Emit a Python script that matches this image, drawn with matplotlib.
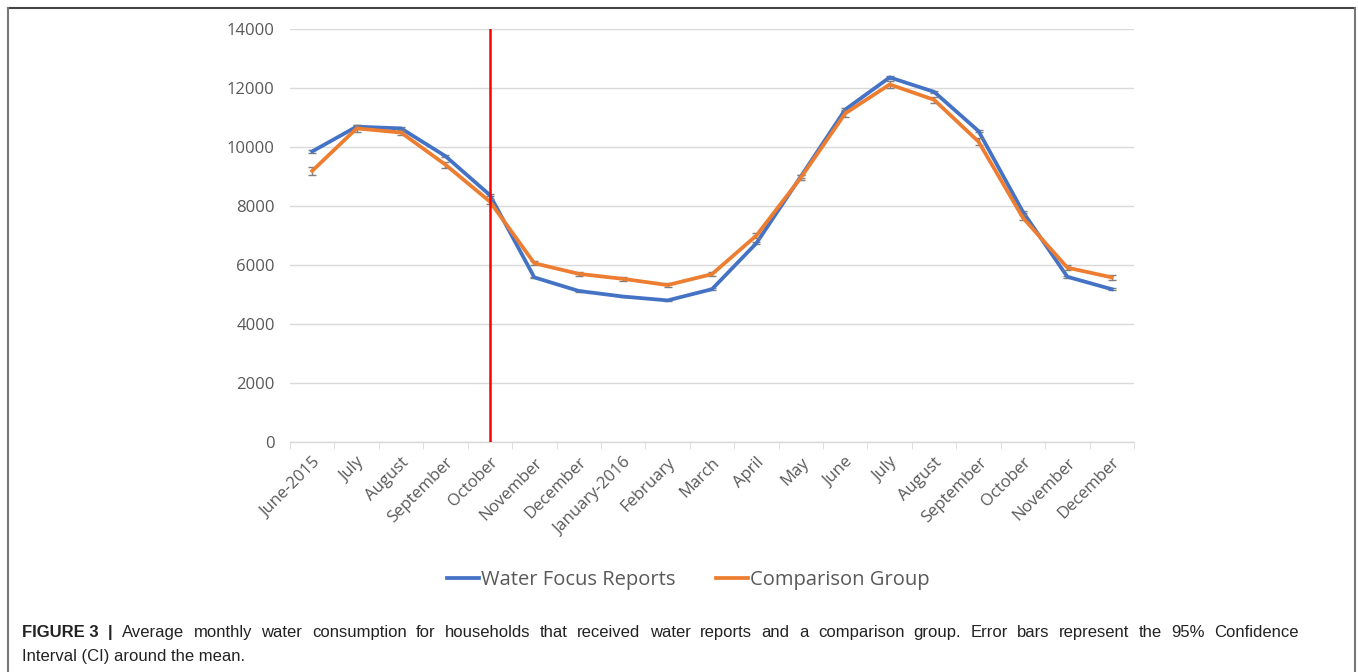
import numpy as np
import matplotlib.pyplot as plt
from matplotlib.lines import Line2D
from matplotlib.transforms import ScaledTranslation

months = ['June-2015', 'July', 'August', 'September', 'October', 'November',
          'December', 'January-2016', 'February', 'March', 'April', 'May',
          'June', 'July', 'August', 'September', 'October', 'November', 'December']

# mean monthly consumption per household
water_focus = [9850, 10690, 10630, 9690, 8370, 5580, 5120, 4930, 4800, 5180,
               6740, 9000, 11270, 12360, 11870, 10540, 7800, 5600, 5180]
comparison = [9190, 10630, 10490, 9400, 8150, 6060, 5700, 5530, 5320, 5690,
              7000, 8960, 11140, 12120, 11600, 10180, 7600, 5910, 5580]

# half-width of the 95% confidence interval
water_focus_ci = [40, 40, 35, 35, 35, 30, 30, 30, 30, 30,
                  35, 40, 45, 45, 45, 40, 35, 30, 30]
comparison_ci = [140, 110, 90, 100, 90, 70, 70, 70, 80, 70,
                 80, 90, 110, 110, 110, 110, 90, 80, 90]

intervention_month = 4  # October 2015

caption_lines = [
    'Average monthly water consumption for households that received water '
    'reports and a comparison group. Error bars represent the 95% Confidence',
    'Interval (CI) around the mean.',
]

W, H = 1358, 672
fig = plt.figure(figsize=(W / 100, H / 100), dpi=100)
ax = fig.add_axes([290 / W, 1 - 442 / H, 844 / W, 413 / H])

x = np.arange(len(months))
for vals, ci, col, name, z in [(water_focus, water_focus_ci, '#4472C4', 'Water Focus Reports', 3),
                               (comparison, comparison_ci, '#ED7D31', 'Comparison Group', 5)]:
    ax.errorbar(x, vals, yerr=ci, fmt='none', ecolor='#7f7f7f', elinewidth=1,
                capsize=3, zorder=z - 1)
    ax.plot(x, vals, color=col, lw=2.7, zorder=z, label=name,
            solid_joinstyle='round')
ax.plot([intervention_month, intervention_month], [0, 14000], color='#FF0000',
        lw=1.8, zorder=6)

ax.set_xlim(-0.5, len(months) - 0.5)
ax.set_ylim(0, 14000)
ax.set_yticks(np.arange(0, 14001, 2000))
ax.grid(axis='y', color='#d9d9d9', lw=1)
ax.set_axisbelow(True)
for side in ['top', 'right', 'left']:
    ax.spines[side].set_visible(False)
ax.spines['bottom'].set_color('#d9d9d9')
ax.spines['bottom'].set_linewidth(1)

ax.set_xticks(x)
ax.set_xticklabels(months, rotation=45, ha='right', rotation_mode='anchor',
                   fontsize=12, color='#595959', family='Open Sans')
shift = ScaledTranslation(-7 / 100, -6 / 100, fig.dpi_scale_trans)
for lab in ax.get_xticklabels():
    lab.set_transform(lab.get_transform() + shift)
ax.set_xticks(np.arange(-0.5, len(months)), minor=True)
ax.tick_params(axis='x', which='major', length=0, pad=9)
ax.tick_params(axis='x', which='minor', length=5, color='#d9d9d9')
ax.tick_params(axis='y', length=0, pad=11, labelsize=12, labelcolor='#595959')
for lab in ax.get_yticklabels():
    lab.set_family('Open Sans')

handles = [Line2D([], [], color='#4472C4', lw=2.7),
           Line2D([], [], color='#ED7D31', lw=2.7)]
fig.legend(handles, ['Water Focus Reports', 'Comparison Group'], ncol=2,
           loc='center', bbox_to_anchor=(688 / W, 1 - 580 / H), frameon=False,
           handlelength=1.6, handletextpad=0.1, columnspacing=2.0,
           prop={'family': 'Open Sans', 'size': 14.5}, labelcolor='#595959')

# caption: first line justified between the panel margins
cap_font = dict(family='Liberation Sans', fontsize=12, color='#222222', va='baseline')
renderer = fig.canvas.get_renderer()
left, right = 22, 1299
y1, y2 = 1 - 637 / H, 1 - 661 / H
words = [('FIGURE 3', 'bold'), ('|', 'bold')] + [(w, 'normal') for w in caption_lines[0].split()]
texts = [fig.text(0, y1, w, fontweight=wt, **cap_font) for w, wt in words]
widths = [t.get_window_extent(renderer).width for t in texts]
gap = (right - left - sum(widths)) / (len(texts) - 1)
pos = left
for t, w in zip(texts, widths):
    t.set_x(pos / W)
    pos += w + gap
fig.text(left / W, y2, caption_lines[1], **cap_font)

# panel frame
fig.add_artist(Line2D([8 / W, 1355 / W], [1 - 8 / H, 1 - 8 / H],
                      color='#444444', lw=1.5))
fig.add_artist(Line2D([8 / W, 8 / W], [0, 1 - 8 / H], color='#777777', lw=1.5))
fig.add_artist(Line2D([1355 / W, 1355 / W], [0, 1 - 8 / H], color='#777777', lw=1.5))

fig.savefig('out.png', dpi=100)
